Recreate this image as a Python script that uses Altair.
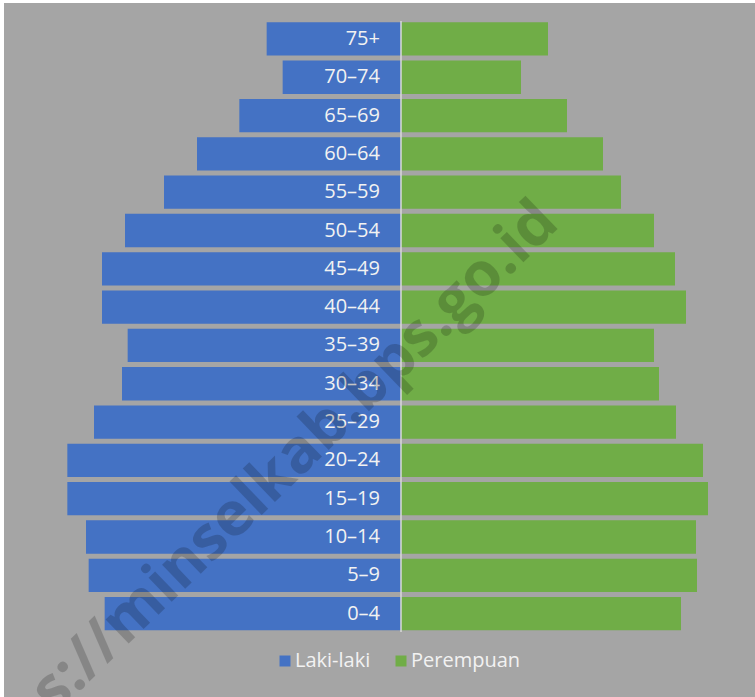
import altair as alt
import pandas as pd

# Age groups, oldest at the top
age_groups = ["75+", "70–74", "65–69", "60–64", "55–59", "50–54", "45–49", "40–44",
              "35–39", "30–34", "25–29", "20–24", "15–19", "10–14", "5–9", "0–4"]

# Population by sex (jiwa)
laki_laki = [4030, 3550, 4850, 6120, 7110, 8280, 8970, 8970,
             8200, 8370, 9210, 10010, 10010, 9450, 9370, 8890]
perempuan = [4410, 3600, 4980, 6060, 6600, 7590, 8220, 8550,
             7590, 7740, 8250, 9060, 9210, 8850, 8880, 8400]

sexes = ["Laki-laki", "Perempuan"]
colors = ["#4472C4", "#70AD47"]
watermark = "https://minselkab.bps.go.id"

rows = []
for g, m, f in zip(age_groups, laki_laki, perempuan):
    rows.append({"kelompok": g, "jenis": "Laki-laki", "jumlah": m})
    rows.append({"kelompok": g, "jenis": "Perempuan", "jumlah": f})
df = pd.DataFrame(rows)

x_scale = alt.Scale(domain=[-11910, 10620], nice=False, zero=False)
y_scale = alt.Scale(domain=age_groups, range=[16.8, 629.8],
                    paddingInner=0.13, paddingOuter=0.065)

y_enc = alt.Y("kelompok:N", scale=y_scale, axis=None, sort=age_groups)

bars = alt.Chart(df).transform_calculate(
    pos="datum.jenis == 'Laki-laki' ? -datum.jumlah : datum.jumlah"
).mark_bar().encode(
    x=alt.X("pos:Q", scale=x_scale, axis=None),
    x2=alt.datum(0),
    y=y_enc,
    color=alt.Color(
        "jenis:N",
        scale=alt.Scale(domain=sexes, range=colors),
        legend=alt.Legend(
            orient="none", legendX=271, legendY=648, direction="horizontal",
            title=None, symbolType="square", symbolSize=121, symbolStrokeWidth=0,
            labelFontSize=20, labelFont="Open Sans", labelColor="#F2F2F2",
            labelOffset=0, columnPadding=20,
        ),
    ),
)

labels = alt.Chart(df).transform_filter(
    "datum.jenis == 'Laki-laki'"
).mark_text(
    align="right", baseline="middle", dx=-21, fontSize=20,
    font="Open Sans", color="#F2F2F2",
).encode(
    x=alt.datum(0),
    y=y_enc,
    text="kelompok:N",
)

center_line = alt.Chart(pd.DataFrame({"v": [0]})).mark_rule(
    color="#DADADA", strokeWidth=1.5
).encode(
    x=alt.X("v:Q", scale=x_scale, axis=None),
    y=alt.value(18),
    y2=alt.value(629),
)

mark_wm = alt.Chart(pd.DataFrame({"t": [watermark]})).mark_text(
    angle=316, fontSize=61, font="Open Sans", fontWeight="bold",
    color="black", opacity=0.18, align="center", baseline="middle",
).encode(
    text="t:N",
    x=alt.value(244),
    y=alt.value(500),
)

chart = alt.layer(bars, center_line, labels, mark_wm).properties(
    width=751, height=694, background="white",
    padding={"left": 4, "top": 3, "right": 0, "bottom": 0},
    autosize="none",
).configure_view(fill="#A5A5A5", strokeWidth=0)

chart.save("out.html", embed_options={"renderer": "svg", "actions": False})
